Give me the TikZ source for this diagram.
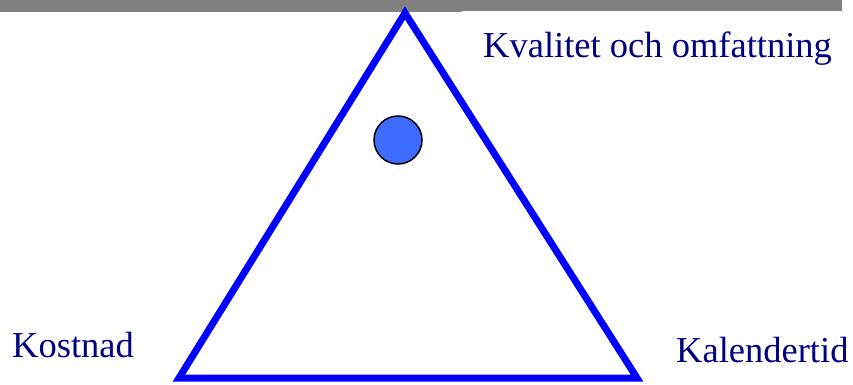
\documentclass[tikz,border=0pt]{standalone}
\usepackage{fontspec}
\setmainfont{Liberation Serif}
\definecolor{navytext}{HTML}{000080}
\definecolor{tribl}{HTML}{0000FF}
\definecolor{dotbl}{HTML}{3D6BFF}
\definecolor{bargray}{HTML}{808080}
\tikzset{
  lbl/.style={text=navytext, font=\fontsize{36.5}{40}\selectfont, inner sep=0pt, anchor=base west},
  tri/.style={draw=tribl, line width=7pt, line join=miter},
}
\begin{document}
\begin{tikzpicture}[x=1pt,y=-1pt]
\useasboundingbox (0,0) rectangle (853,385);
\fill[bargray] (0,0) rectangle (462,12.3);
\fill[bargray] (462,0) rectangle (842,11.3);
\coordinate (apex) at (405,13);
\coordinate (bl) at (179,378);
\coordinate (br) at (637,378);
\draw[tri] (apex) -- (bl) -- (br) -- cycle;
\node[circle, draw=black, line width=1.5pt, fill=dotbl, minimum size=48pt, inner sep=0pt] (dot) at (398,140) {};
\node[lbl] (q) at (483,58) {Kvalitet och omfattning};
\node[lbl] (k) at (12,357) {Kostnad};
\node[lbl] (t) at (676,362) {Kalendertid};
\end{tikzpicture}
\end{document}
